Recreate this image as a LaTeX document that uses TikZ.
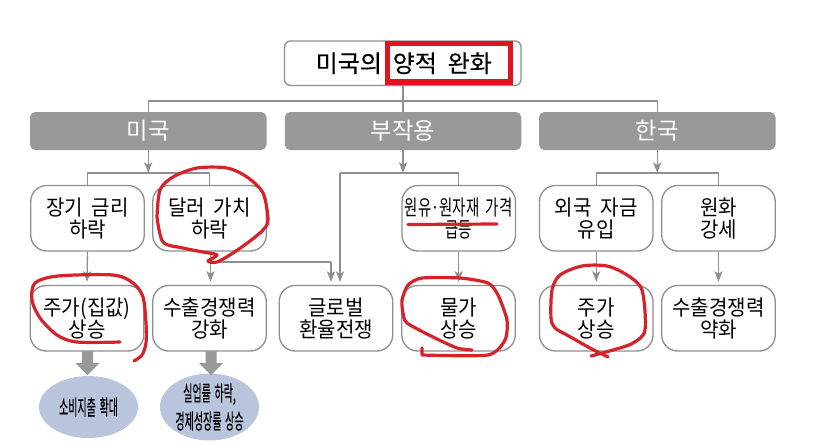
\documentclass[tikz,border=0pt]{standalone}
\usepackage{fontspec}
\setmainfont[WordSpace=1.8]{Noto Sans CJK KR}
\newfontfamily\condfont[WordSpace=2,FakeStretch=0.94]{Noto Sans CJK KR}
\newfontfamily\titlefont[WordSpace=2,FakeBold=0.25]{Noto Sans CJK KR}
\newfontfamily\ovalfont[WordSpace=1.6,FakeBold=0.4]{Noto Sans CJK KR}
\usetikzlibrary{arrows.meta,positioning,shapes.geometric}
\definecolor{linegray}{HTML}{8F8F8F}
\definecolor{hdrgray}{HTML}{999999}
\definecolor{ellblue}{HTML}{B9C5DC}
\definecolor{inkred}{HTML}{D5232B}
\definecolor{framered}{HTML}{E0141F}
\newlength{\px}\setlength{\px}{0.75pt}
\tikzset{
  x=0.75pt,y=-0.75pt,
  titlebox/.style={draw=linegray,line width=1pt,rounded corners=4.5pt,fill=white,minimum width=236.5\px,minimum height=44.5\px,inner sep=0pt},
  hdr/.style={fill=hdrgray,rounded corners=4pt,minimum width=236.5\px,minimum height=38\px,inner sep=0pt,text=white,font=\fontsize{17.5}{19}\selectfont},
  itembox/.style={draw=linegray,line width=1pt,rounded corners=12pt,fill=white,minimum width=113.5\px,minimum height=65.5\px,inner sep=0pt,align=center,font=\condfont\fontsize{16}{16.5}\selectfont},
  oval/.style={ellipse,fill=ellblue,minimum width=99\px,minimum height=62\px,inner sep=0pt,align=center,font=\ovalfont\fontsize{16}{21}\selectfont},
  conn/.style={draw=linegray,line width=1pt},
  arr/.style={conn,-{Stealth[length=8pt,width=6pt,inset=2pt]}},
  fat/.style={draw=none,fill=hdrgray},
  ink/.style={draw=inkred,line width=2.4pt,line cap=round,line join=round},
}
\begin{document}
\begin{tikzpicture}
\useasboundingbox (0,0) rectangle (827,444);
% title
\node[titlebox,font=\titlefont\fontsize{18}{20}\selectfont] (title) at (402.75,63.25) {\hspace{2\px}미국의 양적 완화};
\node[draw=framered,line width=3.8pt,minimum width=123\px,minimum height=38.5\px,inner sep=0pt] (frame) at (449,62.75) {};
% headers
\node[hdr] (us)  at (148.25,131) {미국};
\node[hdr] (side) at (403,131) {부작용};
\node[hdr] (kr)  at (657.25,131) {한국};
% row 2
\node[itembox] (a1) at (87.5,218.25) {장기 금리\\하락};
\node[itembox] (a2) at (209.5,218.25) {달러 가치\\하락};
\node[itembox] (a3) at (458.75,218.25) {\scalebox{0.72}[1]{원유·원자재 가격}\\\scalebox{0.72}[1]{급등}};
\node[itembox] (a4) at (596.25,218.25) {외국 자금\\유입};
\node[itembox] (a5) at (718.5,218.25) {원화\\강세};
% row 3
\node[itembox] (b1) at (87,318.25) {주가(집값)\\상승};
\node[itembox] (b2) at (209.5,318.25) {수출경쟁력\\강화};
\node[itembox] (b3) at (336,318.25) {글로벌\\환율전쟁};
\node[itembox] (b4) at (458.5,318.25) {물가\\상승};
\node[itembox] (b5) at (596.25,318.25) {주가\\상승};
\node[itembox] (b6) at (718.5,318.25) {수출경쟁력\\약화};
% ovals
\node[oval] (c1) at (88.5,407) {\scalebox{0.47}[1]{소비지출 확대}};
\node[oval] (c2) at (209.5,407) {\raisebox{-1.5pt}{\scalebox{0.47}[1]{실업률 하락,}}\\\raisebox{-1.5pt}{\scalebox{0.47}[1]{경제성장률 상승}}};
% junctions
\coordinate (jt) at (403,101);
\coordinate (jus) at (148.25,173);
\coordinate (jside) at (403,173);
\coordinate (jkr) at (657.25,173);
\coordinate (jb) at (210.5,262);
% title to headers
\draw[conn] (title.south -| jt) -- (side.north);
\draw[conn] (us.north) -- (us.north |- jt) -- (kr.north |- jt) -- (kr.north);
% headers to buses
\draw[arr] (us.south) -- (jus);
\draw[arr] (side.south) -- (jside);
\draw[arr] (kr.south) -- (jkr);
\draw[conn] (a1.north) -- (a1.north |- jus) -- (a2.north |- jus) -- (a2.north);
\draw[conn] (a4.north) -- (a4.north |- jkr) -- (a5.north |- jkr) -- (a5.north);
\draw[conn] (a3.north) -- (a3.north |- jside) -- (340,173);
\draw[arr] (340,173) -- (340,282);
% row 2 to row 3
\draw[arr] (a1.south) -- ([yshift=3\px]b1.north);
\draw[arr] (a2.south -| jb) -- ([yshift=3\px]b2.north -| jb);
\draw[conn] (jb) -- (331,262);
\draw[arr] (331,262) -- (331,282);
\draw[arr] (a3.south) -- ([yshift=3\px]b4.north -| a3.south);
\draw[arr] (a4.south) -- ([yshift=3\px]b5.north);
\draw[arr] (a5.south) -- ([yshift=3\px]b6.north);
% fat arrows
\fill[fat] (82,351) -- (93,351) -- (93,363) -- (99.5,363) -- (87.5,375) -- (75.5,363) -- (82,363) -- cycle;
\fill[fat] (205.5,351) -- (216.5,351) -- (216.5,363) -- (223,363) -- (211,375) -- (199,363) -- (205.5,363) -- cycle;
% red ink
\draw[ink] plot[smooth,tension=0.5] coordinates {(157,217) (160,190) (173,177) (197,168) (227,168) (247,177) (263,193) (268,220) (263,230) (250,241) (233,253) (217,262) (208,261) (217,255) (203,252) (183,248) (163,242) (157,217)};
\draw[ink] plot[smooth,tension=0.5] coordinates {(120,342) (77,342) (57,335) (40,318) (32,300) (35,283) (58,276) (113,275) (133,283) (143,297) (146,323) (146,343) (142,355) (134,361)};
\draw[ink] plot[smooth,tension=0.4] coordinates {(472,350) (457,348) (433,337) (407,323) (403,313) (402,300) (408,285) (422,278) (460,278) (488,283) (498,295) (507,320) (505,340) (488,355) (422,355)} -- (422,348);
\draw[ink] plot[smooth,tension=0.5] coordinates {(608,357) (590,348) (567,335) (555,328) (551,318) (552,290) (560,275) (582,266) (607,266) (627,275) (642,290) (645,330) (633,343) (613,350) (591,356)};
\draw[ink] (408,224.5) -- (497,224);
\end{tikzpicture}
\end{document}
